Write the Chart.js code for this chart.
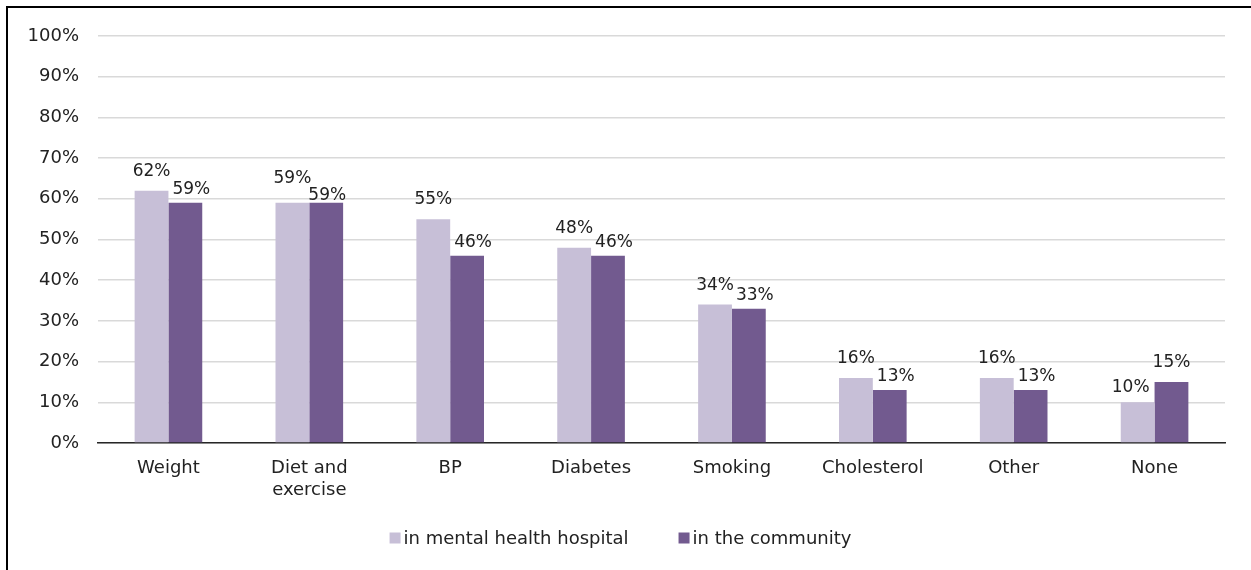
<!DOCTYPE html>
<html>
<head>
<meta charset="utf-8">
<script src="https://cdn.jsdelivr.net/npm/chart.js@4.4.1/dist/chart.umd.min.js"></script>
<style>
  html, body { margin: 0; padding: 0; background: #fff; }
  #wrap { position: relative; width: 1251px; height: 570px; }
</style>
</head>
<body>
<div id="wrap"><canvas id="myChart" width="1251" height="570"></canvas></div>
<script>
var categories = ["Weight", ["Diet and", "exercise"], "BP", "Diabetes", "Smoking", "Cholesterol", "Other", "None"]
var hospital = [62, 59, 55, 48, 34, 16, 16, 10]
var community = [59, 59, 46, 46, 33, 13, 13, 15]
var seriesNames = ["in mental health hospital", "in the community"]
var seriesColors = ["#c7bfd7", "#725a8f"]
var yTicks = [0, 10, 20, 30, 40, 50, 60, 70, 80, 90, 100]

var fontFam = "'DejaVu Sans', Verdana, sans-serif"
var textCol = "#222222"

// black frame round the chart (only top and left show in the window)
var framePlugin = {
    id: "frame",
    beforeDraw: function (chart) {
        var ctx = chart.ctx
        ctx.save()
        ctx.fillStyle = "#ffffff"
        ctx.fillRect(0, 0, chart.width, chart.height)
        ctx.strokeStyle = "#000000"
        ctx.lineWidth = 2
        ctx.strokeRect(7, 7, chart.width + 10, chart.height + 10)
        ctx.restore()
    }
}

// value labels above the bars; the lower label of a pair is nudged aside
// the way the spreadsheet does it so the two do not collide
var labelPlugin = {
    id: "barLabels",
    afterDatasetsDraw: function (chart) {
        var ctx = chart.ctx
        var m0 = chart.getDatasetMeta(0)
        var m1 = chart.getDatasetMeta(1)
        ctx.save()
        ctx.font = "17px " + fontFam
        ctx.fillStyle = textCol
        ctx.textAlign = "center"
        ctx.textBaseline = "alphabetic"
        for (let j = 0; j < categories.length; j++) {
            var a = m0.data[j], b = m1.data[j]
            var g0, g1, d0, d1
            if (hospital[j] > community[j]) {
                g0 = 15; d0 = 0; g1 = 9; d1 = 6
            } else if (hospital[j] < community[j]) {
                g0 = 10; d0 = -7; g1 = 15; d1 = 0
            } else {
                g0 = 20; d0 = 0; g1 = 3; d1 = 1
            }
            ctx.fillText(hospital[j] + "%", a.x + d0, a.y - g0)
            ctx.fillText(community[j] + "%", b.x + d1, b.y - g1)
        }
        ctx.restore()
    }
}

// legend drawn by hand: small square, short gap, wide space between items
var legendPlugin = {
    id: "simpleLegend",
    afterDraw: function (chart) {
        var ctx = chart.ctx
        ctx.save()
        ctx.font = "18px " + fontFam
        var box = 11, gap = 3, between = 50
        var widths = seriesNames.map(function (n) { return box + gap + ctx.measureText(n).width })
        var total = widths[0] + between + widths[1]
        var x = chart.width / 2 - 5 - total / 2
        var y = 538
        ctx.textBaseline = "middle"
        ctx.textAlign = "left"
        seriesNames.forEach(function (n, i) {
            ctx.fillStyle = seriesColors[i]
            ctx.fillRect(x, y - box / 2, box, box)
            ctx.fillStyle = textCol
            ctx.fillText(n, x + box + gap, y + 1)
            x += widths[i] + between
        })
        ctx.restore()
    }
}

var ctx = document.getElementById("myChart").getContext("2d")
var myChart = new Chart(ctx, {
    type: "bar",
    data: {
        labels: categories,
        datasets: [{
            label: seriesNames[0],
            data: hospital,
            backgroundColor: seriesColors[0],
            borderWidth: 0
        }, {
            label: seriesNames[1],
            data: community,
            backgroundColor: seriesColors[1],
            borderWidth: 0
        }]
    },
    options: {
        responsive: false,
        animation: false,
        devicePixelRatio: 1,
        layout: { padding: { left: 0, right: 26, top: 36, bottom: 51 } },
        datasets: {
            bar: { categoryPercentage: 0.48, barPercentage: 1.0 }
        },
        scales: {
            x: {
                grid: { display: false, drawTicks: false },
                border: { display: true, color: "#262626", width: 1.5 },
                ticks: {
                    color: textCol,
                    font: { family: fontFam, size: 18 },
                    padding: 15,
                    maxRotation: 0,
                    autoSkip: false
                },
                afterFit: function (scale) { scale.height = 76 }
            },
            y: {
                min: 0,
                max: 100,
                afterBuildTicks: function (scale) {
                    scale.ticks = yTicks.map(function (v) { return { value: v } })
                },
                grid: { color: "#d9d9d9", lineWidth: 1.5, drawTicks: false },
                border: { display: false },
                ticks: {
                    color: textCol,
                    font: { family: fontFam, size: 18 },
                    padding: 19,
                    callback: function (v) { return v + "%" }
                },
                afterFit: function (scale) { scale.width = 98 }
            }
        },
        plugins: {
            legend: { display: false },
            tooltip: { enabled: false }
        }
    },
    plugins: [framePlugin, labelPlugin, legendPlugin]
})
</script>
</body>
</html>
